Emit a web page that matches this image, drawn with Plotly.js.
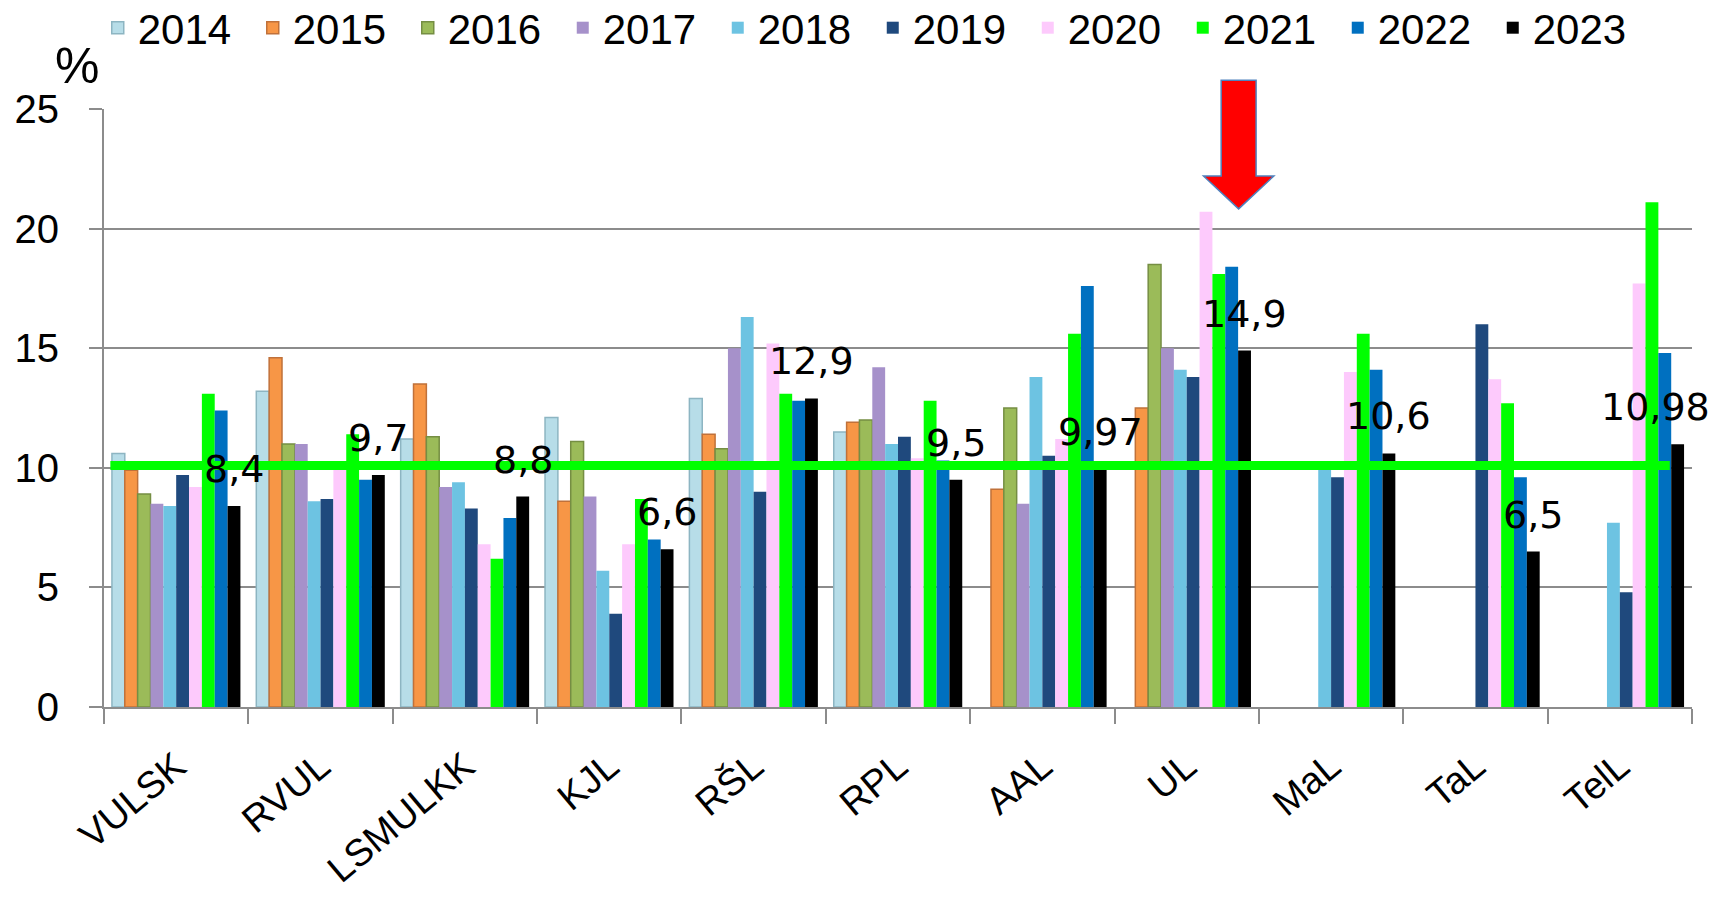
<!DOCTYPE html>
<html>
<head>
<meta charset="utf-8">
<script src="https://cdn.plot.ly/plotly-3.0.1.min.js"></script>
<style>
  html, body { margin: 0; padding: 0; background: #fff; }
  #grafico { width: 1715px; height: 900px; }
</style>
</head>
<body>
<div id="grafico"></div>
<script>
// hospitals (categories)
const categorias = ['VULSK', 'RVUL', 'LSMULKK', 'KJL', 'RŠL', 'RPL', 'AAL', 'UL', 'MaL', 'TaL', 'TelL'];
const anos = ['2014', '2015', '2016', '2017', '2018', '2019', '2020', '2021', '2022', '2023'];

// % per year, one value per hospital (null = no data)
const v2014 = [10.6, 13.2, 11.2, 12.1, 12.9, 11.5, null, null, null, null, null];
const v2015 = [9.9, 14.6, 13.5, 8.6, 11.4, 11.9, 9.1, 12.5, null, null, null];
const v2016 = [8.9, 11.0, 11.3, 11.1, 10.8, 12.0, 12.5, 18.5, null, null, null];
const v2017 = [8.5, 11.0, 9.2, 8.8, 15.0, 14.2, 8.5, 15.0, null, null, null];
const v2018 = [8.4, 8.6, 9.4, 5.7, 16.3, 11.0, 13.8, 14.1, 10.0, null, 7.7];
const v2019 = [9.7, 8.7, 8.3, 3.9, 9.0, 11.3, 10.5, 13.8, 9.6, 16.0, 4.8];
const v2020 = [9.2, 10.0, 6.8, 6.8, 15.2, 10.4, 11.2, 20.7, 14.0, 13.7, 17.7];
const v2021 = [13.1, 11.4, 6.2, 8.7, 13.1, 12.8, 15.6, 18.1, 15.6, 12.7, 21.1];
const v2022 = [12.4, 9.5, 7.9, 7.0, 12.8, 10.3, 17.6, 18.4, 14.1, 9.6, 14.8];
const v2023 = [8.4, 9.7, 8.8, 6.6, 12.9, 9.5, 9.97, 14.9, 10.6, 6.5, 10.98];

// average line
const media = 10.1;

const valores = [v2014, v2015, v2016, v2017, v2018, v2019, v2020, v2021, v2022, v2023];
const cores = ['#b7dde8', '#f79646', '#9bbb59', '#a691ca', '#6dc3e2', '#1f497d', '#fdcafc', '#00ff00', '#0070c0', '#000000'];
const bordas = ['#8db5c2', '#c0713a', '#758e43', '#a691ca', '#6dc3e2', '#1f497d', '#fdcafc', '#00ff00', '#0070c0', '#000000'];

const fonte = 'Liberation Sans, Arial, sans-serif';
const bargap = 0.11;

const data = anos.map(function (ano, i) {
    return {
        x: categorias,
        y: valores[i],
        name: ano,
        type: 'bar',
        marker: { color: cores[i], line: { color: bordas[i], width: i < 3 ? 1.5 : 0 } },
        hoverinfo: 'x+y+name'
    };
});

// value labels over the 2023 bar of each hospital (decimal comma)
const larguraBarra = (1 - bargap) / anos.length;
const desloc2023 = (anos.length - 1) / 2 * larguraBarra;
const rotulos = v2023.map(function (v, i) {
    const ultimo = i === categorias.length - 1;
    return {
        text: String(v).replace('.', ','),
        xref: ultimo ? 'paper' : 'x', yref: 'y',
        x: ultimo ? 1 : i + desloc2023,
        xanchor: ultimo ? 'right' : 'center',
        xshift: ultimo ? 20 : 0,
        y: v, yanchor: 'middle', yshift: 37,
        showarrow: false,
        font: { family: 'DejaVu Sans, sans-serif', size: 38, color: '#000' }
    };
});

const layout = {
    width: 1715,
    height: 900,
    margin: { l: 104, r: 23, t: 109, b: 193 },
    paper_bgcolor: '#ffffff',
    plot_bgcolor: '#ffffff',
    barmode: 'group',
    bargap: bargap,
    bargroupgap: 0,
    showlegend: true,
    legend: {
        orientation: 'h',
        xref: 'container', yref: 'container',
        x: 0.057, xanchor: 'left',
        y: 0.969, yanchor: 'middle',
        font: { family: fonte, size: 42, color: '#000' },
        itemwidth: 30,
        entrywidth: 110,
        tracegroupgap: 0
    },
    xaxis: {
        type: 'category',
        tickangle: -40,
        tickfont: { family: fonte, size: 38, color: '#000' },
        showline: true, linecolor: '#8c8c8c', linewidth: 2,
        ticks: 'outside', tickson: 'boundaries', ticklen: 15, tickcolor: '#8c8c8c', tickwidth: 2,
        ticklabelstandoff: 20,
        showgrid: false
    },
    yaxis: {
        range: [0, 25],
        dtick: 5,
        tickfont: { family: fonte, size: 40, color: '#000' },
        showline: true, linecolor: '#8c8c8c', linewidth: 2,
        ticks: 'outside', ticklen: 13, tickcolor: '#8c8c8c', tickwidth: 2,
        ticklabelstandoff: 22,
        gridcolor: '#8c8c8c', gridwidth: 2,
        zeroline: false
    },
    shapes: [
        {
            // green average line
            type: 'line', xref: 'paper', yref: 'y',
            x0: 0.004, x1: 0.986, y0: media, y1: media,
            line: { color: '#00ff00', width: 9 },
            layer: 'above'
        },
        {
            // red arrow pointing at UL
            type: 'path', xref: 'paper', yref: 'paper',
            path: 'M 0.7035 1.048 L 0.7255 1.048 L 0.7255 0.888 L 0.7367 0.888 L 0.7145 0.833 L 0.6924 0.888 L 0.7035 0.888 Z',
            fillcolor: '#ff0000',
            line: { color: '#4f81bd', width: 1.5 },
            layer: 'above'
        }
    ],
    annotations: rotulos.concat([
        {
            text: '%', xref: 'paper', yref: 'paper',
            x: -0.017, y: 1.072, xanchor: 'center', yanchor: 'middle',
            showarrow: false,
            font: { family: fonte, size: 50, color: '#000' }
        }
    ])
};

Plotly.newPlot('grafico', data, layout, { displayModeBar: false });
</script>
</body>
</html>
